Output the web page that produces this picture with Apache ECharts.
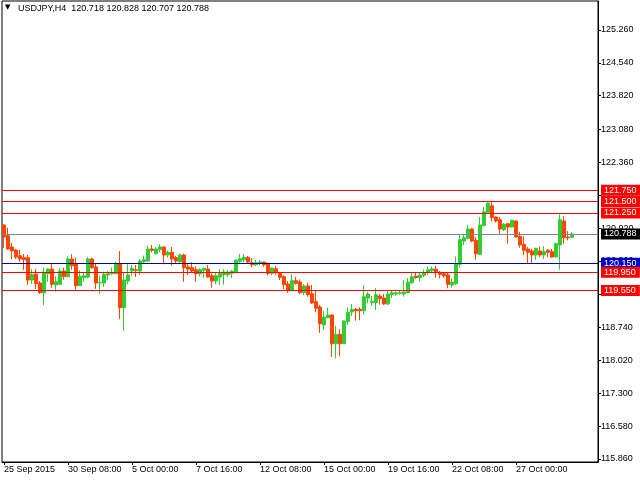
<!DOCTYPE html>
<html><head><meta charset="utf-8">
<script src="https://cdn.jsdelivr.net/npm/echarts@6/dist/echarts.min.js"></script>
<style>html,body{margin:0;padding:0;background:#fff}#c{width:640px;height:480px}</style>
</head><body><div id="c"></div>
<script>
const symbolName = 'USDJPY,H4';
const lastQuote = ['120.718', '120.828', '120.707', '120.788'];
const xTickLabels = ['25 Sep 2015','30 Sep 08:00','5 Oct 00:00','7 Oct 16:00','12 Oct 08:00','15 Oct 00:00','19 Oct 16:00','22 Oct 08:00','27 Oct 00:00'];
const yTickLabels = [115.86,116.58,117.30,118.02,118.74,119.48,120.20,120.92,121.64,122.36,123.08,123.82,124.54,125.26];
const redLevels = [121.75, 121.50, 121.25, 119.95, 119.55];
const blueLevel = 120.15;
const bidLevel = 120.788;

const opens = [120.987,120.753,120.505,120.439,120.315,120.271,120.271,119.782,119.907,119.716,
119.497,119.920,120.023,119.673,119.688,119.979,119.854,120.242,120.139,119.657,
119.832,119.847,120.242,120.067,119.716,119.716,119.892,119.920,119.920,120.139,
119.175,119.760,119.979,120.008,119.979,120.183,120.198,120.461,120.358,120.446,
120.505,120.330,120.389,120.271,120.183,120.330,120.067,120.052,120.008,119.920,
119.995,120.023,119.876,119.760,119.847,119.898,119.898,119.929,119.957,120.192,
120.220,120.279,120.161,120.117,120.148,120.176,120.148,119.929,120.030,119.942,
119.854,119.694,119.563,119.767,119.738,119.504,119.651,119.482,119.307,119.190,
118.796,118.956,119.015,118.386,118.592,118.386,118.868,119.080,119.140,119.140,
119.109,119.388,119.285,119.285,119.431,119.388,119.256,119.460,119.475,119.490,
119.475,119.504,119.721,119.865,119.837,119.887,119.946,119.984,120.019,119.951,
119.920,119.892,119.673,119.701,120.126,120.636,120.695,120.899,120.652,120.345,
120.972,121.265,121.410,121.162,121.103,120.884,121.016,120.943,121.075,120.739,
120.564,120.461,120.418,120.330,120.418,120.330,120.433,120.403,120.286,120.549,
121.075,120.724,120.718];
const highs = [120.995,120.928,120.593,120.461,120.446,120.352,120.330,120.023,120.023,119.760,
120.052,120.038,120.139,119.863,120.038,120.052,120.301,120.345,120.271,119.995,
119.964,120.286,120.271,120.155,119.876,119.964,119.979,120.052,120.183,120.418,
119.957,120.126,120.111,120.111,120.242,120.315,120.534,120.549,120.505,120.564,
120.520,120.433,120.505,120.315,120.358,120.358,120.139,120.170,120.082,120.038,
120.052,120.111,119.920,119.935,120.023,120.017,120.001,120.001,120.225,120.352,
120.352,120.308,120.264,120.220,120.220,120.180,120.161,120.060,120.089,119.957,
119.885,119.754,119.914,119.854,119.797,119.694,119.723,119.673,119.556,119.234,
119.103,119.175,119.031,118.781,118.708,118.899,119.175,119.256,119.168,119.184,
119.666,119.519,119.431,119.607,119.475,119.475,119.535,119.563,119.535,119.548,
119.782,119.826,119.940,119.940,119.957,120.012,120.078,120.078,120.093,119.979,
119.951,119.935,119.819,120.301,120.768,120.783,120.987,120.914,120.724,121.162,
121.382,121.475,121.498,121.178,121.162,121.031,121.031,121.103,121.090,120.840,
120.739,120.505,120.461,120.490,120.520,120.520,120.461,120.461,120.608,121.222,
121.178,120.855,120.828];
const lows = [120.483,120.446,120.242,120.242,120.183,120.001,119.673,119.701,119.585,119.482,
119.234,119.745,119.613,119.526,119.680,119.789,119.845,120.008,119.563,119.650,
119.745,119.819,120.023,119.585,119.482,119.629,119.776,119.892,119.915,118.928,
118.671,119.688,119.876,119.847,119.892,120.139,120.183,120.389,120.350,120.389,
120.126,120.271,120.095,120.155,120.155,119.745,119.892,119.935,119.745,119.863,
119.832,119.832,119.613,119.688,119.673,119.679,119.841,119.826,119.957,120.148,
120.176,120.148,120.060,120.089,120.104,120.073,119.885,119.885,119.898,119.782,
119.578,119.504,119.555,119.679,119.475,119.447,119.416,119.263,119.074,118.621,
118.693,118.943,118.095,118.066,118.110,118.380,118.796,118.993,118.890,118.905,
119.022,119.272,119.212,119.125,119.241,119.241,119.241,119.388,119.431,119.460,
119.416,119.490,119.694,119.804,119.749,119.843,119.896,119.953,119.830,119.819,
119.832,119.600,119.613,119.673,120.052,120.549,120.673,120.607,120.227,120.330,
120.965,121.262,121.060,121.046,120.783,120.855,120.577,120.940,120.718,120.490,
120.330,120.155,120.155,120.227,120.286,120.242,120.286,120.271,120.280,120.008,
120.577,120.652,120.707];
const closes = [120.724,120.461,120.418,120.286,120.242,120.227,119.782,119.907,119.701,119.504,
119.951,120.023,119.688,119.745,119.979,119.854,120.242,120.095,119.657,119.863,
119.876,120.242,120.052,119.716,119.732,119.907,119.920,119.951,120.139,119.175,
119.782,119.892,120.038,119.995,120.198,120.227,120.461,120.433,120.461,120.505,
120.330,120.389,120.242,120.198,120.330,120.052,120.023,119.979,119.920,120.008,
120.038,119.847,119.760,119.876,119.920,119.957,119.957,119.973,120.220,120.249,
120.279,120.176,120.117,120.161,120.176,120.117,119.929,120.045,119.942,119.841,
119.679,119.563,119.767,119.710,119.504,119.651,119.460,119.278,119.162,118.825,
118.971,119.015,118.386,118.592,118.386,118.884,119.074,119.140,119.109,119.109,
119.416,119.475,119.315,119.460,119.372,119.256,119.475,119.504,119.504,119.504,
119.519,119.738,119.852,119.837,119.892,119.946,120.006,120.027,119.946,119.907,
119.876,119.688,119.732,120.139,120.665,120.709,120.899,120.636,120.358,120.987,
121.279,121.469,121.147,121.075,120.899,121.002,120.943,121.090,120.724,120.549,
120.433,120.389,120.330,120.476,120.330,120.403,120.389,120.286,120.578,121.103,
120.709,120.709,120.788];

// bar times (H4, weekdays only), 143 bars plus empty right margin slots
const totalSlots = 149;
const categories = [];
(function(){
  let t = Date.UTC(2015, 8, 25, 16, 0);
  for (let i = 0; i < totalSlots; i++) {
    const d = new Date(t);
    categories.push(d.toISOString().slice(0,16).replace('T',' '));
    t += 4*3600*1000;
    while ([0,6].includes(new Date(t).getUTCDay())) t += 4*3600*1000;
  }
})();

const candleData = opens.map((o, i) => [o, closes[i], lows[i], highs[i]]);
const FONT = 'Liberation Sans';
const isTick = (i) => i % 16 === 0 && (i / 16) < xTickLabels.length;

function levelLine(v, lineColor, boxColor) {
  return {
    yAxis: v,
    lineStyle: { color: lineColor, width: 1, type: 'solid' },
    label: {
      show: true, position: 'end', distance: 3,
      formatter: () => v.toFixed(3),
      color: '#fff', backgroundColor: boxColor,
      fontFamily: FONT, fontSize: 9, padding: [1, 4, 1, 3]
    }
  };
}

const chart = echarts.init(document.getElementById('c'), null, { renderer: 'canvas' });
chart.setOption({
  animation: false,
  backgroundColor: '#fff',
  graphic: [
    { type: 'text', left: 5, top: 4, style: { text: '▼', font: '7px "DejaVu Sans"', fill: '#000' } },
    { type: 'text', left: 18, top: 4, style: { text: symbolName + '  ' + lastQuote.join(' '), font: '9px "' + FONT + '"', fill: '#000' } }
  ],
  grid: { left: 2, right: 42, top: 1, bottom: 18, show: true, borderColor: '#000', borderWidth: 1, backgroundColor: '#fff' },
  xAxis: {
    type: 'category', data: categories, boundaryGap: true,
    axisLine: { show: true, lineStyle: { color: '#000', width: 1 } },
    axisTick: { show: true, alignWithLabel: true, length: 3, interval: (i) => isTick(i), lineStyle: { color: '#000' } },
    axisLabel: { interval: (i) => isTick(i), formatter: (v, i) => xTickLabels[i / 16], align: 'left',
      color: '#000', fontFamily: FONT, fontSize: 9, margin: 3 },
    splitLine: { show: false }
  },
  yAxis: {
    type: 'value', position: 'right', min: 115.7942, max: 125.8954,
    axisLine: { show: true, lineStyle: { color: '#000', width: 1 } },
    axisTick: { show: true, length: 3, customValues: yTickLabels, lineStyle: { color: '#000' } },
    axisLabel: { customValues: yTickLabels, formatter: (v) => v.toFixed(3), color: '#000', fontFamily: FONT, fontSize: 9, margin: 3 },
    splitLine: { show: false }
  },
  series: [{
    type: 'candlestick',
    data: candleData,
    barWidth: 3,
    clip: false,
    itemStyle: { color: '#32cd32', color0: '#ff4500', borderColor: '#32cd32', borderColor0: '#ff4500', borderWidth: 1 },
    markLine: {
      symbol: 'none', silent: true, animation: false,
      data: [
        levelLine(bidLevel, '#778899', '#000000'),
        levelLine(blueLevel, '#0000a0', '#0000c8'),
        ...redLevels.map(v => levelLine(v, '#ff0000', '#ff0000'))
      ]
    }
  }]
});
</script>
</body></html>
